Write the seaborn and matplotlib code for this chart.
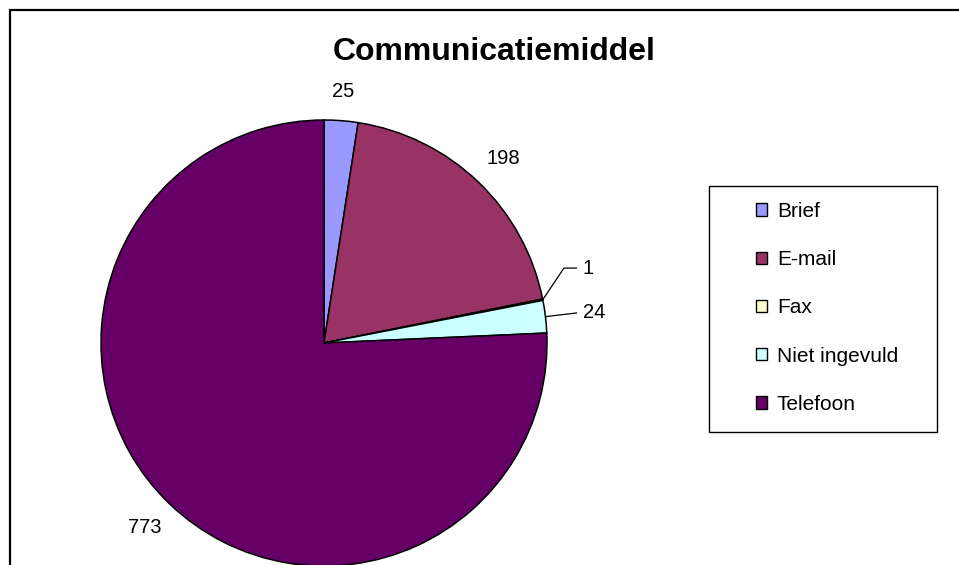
import numpy as np
import matplotlib
matplotlib.use("Agg")
import matplotlib.pyplot as plt
from matplotlib.patches import Patch, Rectangle
from matplotlib.lines import Line2D
import seaborn as sns

# Data
categories = ["Brief", "E-mail", "Fax", "Niet ingevuld", "Telefoon"]
counts = [25, 198, 1, 24, 773]
slice_colors = ["#9999FF", "#993366", "#FFFFCC", "#CCFFFF", "#660066"]
title_text = "Communicatiemiddel"

sns.set_theme(style="white")
plt.rcParams["font.family"] = ["Liberation Sans", "DejaVu Sans"]
plt.rcParams["text.color"] = "black"

W, H = 959, 565
fig = plt.figure(figsize=(W / 100, H / 100), dpi=100)
fig.patch.set_facecolor("white")

# Pie geometry (pixels, measured from the top-left corner of the figure)
R = 223
cx, cy = 324, 343
ax = fig.add_axes([(cx - R) / W, (H - cy - R) / H, 2 * R / W, 2 * R / H])
wedges, _ = ax.pie(
    counts,
    colors=slice_colors,
    startangle=90,
    counterclock=False,
    wedgeprops=dict(edgecolor="black", linewidth=1.1),
)
ax.set_xlim(-1, 1)
ax.set_ylim(-1, 1)
ax.set_aspect("equal")
ax.axis("off")

label_fs = 14.5
fs_px = label_fs * 100 / 72

# Small slices get a callout with a leader line: elbow point in data units
callouts = {2: (1.076, 0.336), 3: (1.135, 0.135)}
callout_end_x = 1.135
callout_text_x = 1.16

for i, (w, val) in enumerate(zip(wedges, counts)):
    mid = np.deg2rad((w.theta1 + w.theta2) / 2)
    dx, dy = np.cos(mid), np.sin(mid)
    txt = str(val)
    if i in callouts:
        ex, ey = callouts[i]
        ax.plot([dx, ex, callout_end_x], [dy, ey, ey], color="black",
                lw=0.9, clip_on=False, solid_capstyle="butt")
        ax.text(callout_text_x, ey, txt, ha="left", va="center",
                fontsize=label_fs, color="black", clip_on=False)
    else:
        gap = 20
        tw = len(txt) * 0.556 * fs_px
        ox = dx * gap + dx * tw / 2
        oy = dy * gap + np.sign(dy) * 9
        ax.annotate(txt, xy=(dx, dy), xytext=(ox, oy),
                    textcoords="offset pixels", ha="center", va="center",
                    fontsize=label_fs, color="black", annotation_clip=False)

# Title
fig.text(494 / W, 1 - 52 / H, title_text, ha="center", va="center",
         fontsize=23, fontweight="bold", color="black")

# Chart area border (left and top edges)
fig.add_artist(Line2D([9.5 / W, 9.5 / W], [0, 1 - 10 / H],
                      transform=fig.transFigure, color="black", lw=1.6))
fig.add_artist(Line2D([9.5 / W, 1], [1 - 10 / H, 1 - 10 / H],
                      transform=fig.transFigure, color="black", lw=1.6))

# Legend box
fig.add_artist(Rectangle((709 / W, 1 - 432 / H), 228 / W, 246 / H,
                         transform=fig.transFigure, facecolor="white",
                         edgecolor="black", lw=1.0))
handles = [Patch(facecolor=c, edgecolor="black", linewidth=1.0) for c in slice_colors]
fig.legend(handles, categories, loc="upper left",
           bbox_to_anchor=(756 / W, 1 - 202 / H), frameon=False,
           fontsize=15, labelcolor="black", handlelength=0.55,
           handleheight=0.55, handletextpad=0.45, labelspacing=1.40,
           borderpad=0, borderaxespad=0)

fig.savefig("out.png", dpi=100, facecolor="white")
